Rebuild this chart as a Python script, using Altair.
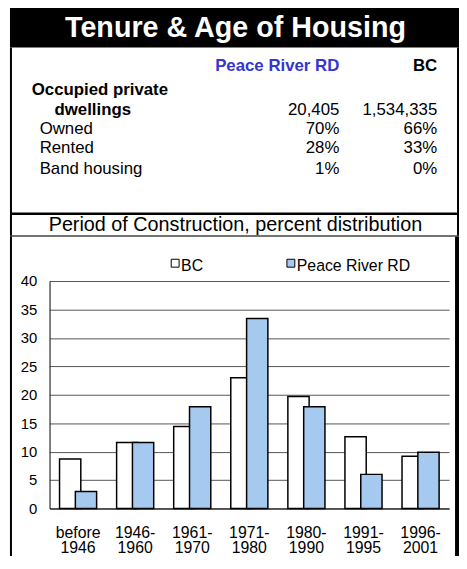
import altair as alt
import pandas as pd

# ---------------- data ----------------
periods = ["before 1946", "1946-1960", "1961-1970", "1971-1980", "1980-1990", "1991-1995", "1996-2001"]
bc_pct = [8.7, 11.6, 14.4, 23.0, 19.7, 12.6, 9.2]
pr_pct = [3.0, 11.6, 17.9, 33.4, 17.9, 6.0, 9.9]
series = ["BC", "Peace River RD"]
series_colors = ["#ffffff", "#a6c9ef"]
y_ticks = [0, 5, 10, 15, 20, 25, 30, 35, 40]

title_text = "Tenure & Age of Housing"
subtitle_text = "Period of Construction, percent distribution"
table_head = ["Peace River RD", "BC"]
dwell_label = ["Occupied private", "dwellings"]
dwell_vals = ["20,405", "1,534,335"]
row_labels = ["Owned", "Rented", "Band housing"]
pr_row_vals = ["70%", "28%", "1%"]
bc_row_vals = ["66%", "33%", "0%"]

FONT = "Liberation Sans"
one = pd.DataFrame({"k": [0]})


def txt(s, x, y, size=17, weight="normal", align="left", color="black"):
    return alt.Chart(one).mark_text(
        text=s, font=FONT, fontSize=size, fontWeight=weight, align=align,
        baseline="alphabetic", color=color
    ).encode(x=alt.value(x), y=alt.value(y))


def rule(x1, y1, x2, y2, w, color="black"):
    return alt.Chart(one).mark_rule(color=color, strokeWidth=w).encode(
        x=alt.value(x1), x2=alt.value(x2), y=alt.value(y1), y2=alt.value(y2)
    )


def box(x1, y1, x2, y2, fill, stroke=None, sw=0):
    kw = dict(fill=fill)
    if stroke:
        kw.update(stroke=stroke, strokeWidth=sw)
    return alt.Chart(one).mark_rect(**kw).encode(
        x=alt.value(x1), x2=alt.value(x2), y=alt.value(y1), y2=alt.value(y2)
    )


# ---------------- header / frame ----------------
layers = []
layers.append(box(-40, -276, 414, -236, "black"))
layers.append(txt(title_text, 188, -247, size=29, weight="bold", align="center", color="white"))
layers.append(rule(-39, -236, -39, 290, 2))
layers.append(rule(413, -236, 413, -45, 2))
layers.append(rule(412, -45, 412, 290, 4))
layers.append(rule(-40, -68, 414, -68, 2.3))
layers.append(rule(-40, -45.5, 414, -45.5, 1.5, "#444444"))

# table
layers.append(txt(table_head[0], 293, -212, weight="bold", align="right", color="#3535d0"))
layers.append(txt(table_head[1], 392, -212, weight="bold", align="right"))
layers.append(txt(dwell_label[0], -18, -188, weight="bold"))
layers.append(txt(dwell_label[1], 5, -168, weight="bold"))
layers.append(txt(dwell_vals[0], 293, -168, align="right"))
layers.append(txt(dwell_vals[1], 392, -168, align="right"))
row_y = [-149, -129, -108]
for lab, pv, bv, yy in zip(row_labels, pr_row_vals, bc_row_vals, row_y):
    layers.append(txt(lab, -10, yy))
    layers.append(txt(pv, 293, yy, align="right"))
    layers.append(txt(bv, 392, yy, align="right"))

layers.append(txt(subtitle_text, 188, -51, size=20, align="center"))

# legend
legend_x = [123, 240]
for name, col, lx in zip(series, series_colors, legend_x):
    layers.append(box(lx, -22, lx + 8, -14, col, "black", 1))
    layers.append(txt(name, lx + 10, -10, size=16))

# ---------------- bars ----------------
df = pd.DataFrame({
    "period": periods * 2,
    "series": [series[0]] * len(periods) + [series[1]] * len(periods),
    "value": bc_pct + pr_pct,
})

x_enc = alt.X(
    "period:N", sort=periods, title=None,
    scale=alt.Scale(paddingInner=0, paddingOuter=0),
    axis=alt.Axis(
        labelAngle=0, labelFont=FONT, labelFontSize=16, labelColor="black",
        labelBaseline="top", labelLineHeight=16, labelPadding=16,
        labelExpr="indexof(datum.label, ' ') > 0 ? split(datum.label, ' ') : [substring(datum.label, 0, 5), substring(datum.label, 5)]",
        ticks=False, tickSize=0, grid=False, domainColor="black", domainWidth=1,
    ),
)
y_enc = alt.Y(
    "value:Q", title=None, scale=alt.Scale(domain=[0, 40], nice=False),
    axis=alt.Axis(
        values=y_ticks, labelFont=FONT, labelFontSize=15, labelColor="black",
        labelPadding=13, ticks=False, tickSize=0, grid=True, gridColor="#555555",
        gridWidth=1, domainColor="black", domainWidth=1,
    ),
)
color_enc = alt.Color("series:N", scale=alt.Scale(domain=series, range=series_colors), legend=None)

base = alt.Chart(df).encode(x=x_enc, y=y_enc, color=color_enc)
bars_bc = base.transform_filter(alt.datum.series == series[0]).mark_bar(
    width=21.5, xOffset=-8, stroke="black", strokeWidth=1.5, opacity=1
)
bars_pr = base.transform_filter(alt.datum.series == series[1]).mark_bar(
    width=21.5, xOffset=8, stroke="black", strokeWidth=1.5, opacity=1
)

chart = alt.layer(bars_bc, bars_pr, *layers).properties(
    width=404, height=230,
    autosize=alt.AutoSizeParams(type="none"),
    padding={"left": 42, "top": 273, "right": 10, "bottom": 45},
    background="white",
).configure_view(stroke=None)

chart.save("out.html", embed_options={"renderer": "svg", "actions": False})
